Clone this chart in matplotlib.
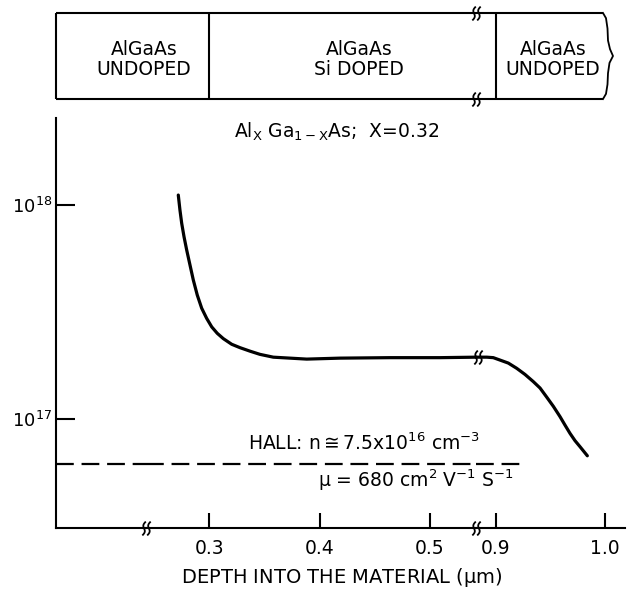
import numpy as np
import matplotlib
matplotlib.use("Agg")
import matplotlib.pyplot as plt
from matplotlib.path import Path
from matplotlib.ticker import FixedLocator, NullLocator, FixedFormatter

# ---------------- data ----------------
depth_near = [0.2719, 0.2734, 0.2750, 0.2771, 0.2795, 0.2825, 0.2855, 0.2891,
              0.2931, 0.2976, 0.3022, 0.3072, 0.3127, 0.3203, 0.3278, 0.3369,
              0.3459, 0.3580, 0.3731, 0.3883, 0.4184, 0.4638, 0.5091, 0.5417]
conc_near = [1.113e18, 9.48e17, 8.21e17, 7.11e17, 6.17e17, 5.25e17, 4.47e17, 3.80e17,
             3.30e17, 2.96e17, 2.70e17, 2.52e17, 2.38e17, 2.24e17, 2.16e17, 2.08e17,
             2.01e17, 1.95e17, 1.93e17, 1.91e17, 1.93e17, 1.94e17, 1.94e17, 1.95e17]
depth_far = [0.8817, 0.8915, 0.8975, 0.9037, 0.9113, 0.9190, 0.9266, 0.9342, 0.9404,
             0.9465, 0.9526, 0.9587, 0.9633, 0.9679, 0.9725, 0.9771, 0.9838]
conc_far = [1.95e17, 1.95e17, 1.94e17, 1.89e17, 1.83e17, 1.73e17, 1.62e17, 1.50e17, 1.40e17,
            1.27e17, 1.15e17, 1.03e17, 9.4e16, 8.6e16, 7.95e16, 7.45e16, 6.76e16]
hall_level = 6.2e16
hall_depth_end = 0.9275
x_ticks_near = [0.3, 0.4, 0.5]
x_labels_near = ["0.3", "0.4", "0.5"]
x_ticks_far = [0.9, 1.0]
x_labels_far = ["0.9", "1.0"]
y_ticks = [1e17, 1e18]
layer_bounds = [0.3, 0.9]
layer_end = 1.0
layer_names = [("AlGaAs", "UNDOPED"), ("AlGaAs", "Si DOPED"), ("AlGaAs", "UNDOPED")]

# ---------------- layout ----------------
W, H = 630, 589
plt.rcParams["font.family"] = ["DejaVu Sans"]
plt.rcParams["mathtext.fontset"] = "dejavusans"
plt.rcParams["mathtext.default"] = "regular"

fig = plt.figure(figsize=(W / 100, H / 100), dpi=100)


def fbox(x0, y0, x1, y1):
    return [x0 / W, 1 - y1 / H, (x1 - x0) / W, (y1 - y0) / H]


def fx(px):
    return px / W


def fy(py):
    return 1 - py / H


XL, XB1, XB2, XR = 56, 146, 476, 625
YT, YA = 118, 528
LW = 1.5
FS = 13.5

ax0 = fig.add_axes(fbox(XL, YT, XB1, YA))
ax0.set_yscale("log")
ax1 = fig.add_axes(fbox(XB1, YT, XB2, YA), sharey=ax0)
ax2 = fig.add_axes(fbox(XB2, YT, XR, YA), sharey=ax0)

ax0.set_xlim(0, 1)
ax1.set_xlim(0.24264, 0.54169)
ax2.set_xlim(0.88165, 1.01835)
ax0.set_ylim(10 ** 16.493, 10 ** 18.406)

for a in (ax0, ax1, ax2):
    a.set_facecolor("none")
    for s in ("top", "right", "left"):
        a.spines[s].set_visible(False)
    a.spines["bottom"].set_linewidth(LW)
ax0.spines["left"].set_visible(True)
ax0.spines["left"].set_linewidth(LW)

ax0.yaxis.set_major_locator(FixedLocator(y_ticks))
ax0.yaxis.set_minor_locator(NullLocator())
ax0.tick_params(axis="y", direction="in", length=14, width=LW, labelsize=13, pad=3)
ax0.tick_params(axis="x", bottom=False, labelbottom=False)
for a, tk, lb in ((ax1, x_ticks_near, x_labels_near), (ax2, x_ticks_far, x_labels_far)):
    a.tick_params(axis="y", which="both", left=False, labelleft=False)
    a.xaxis.set_major_locator(FixedLocator(tk))
    a.xaxis.set_major_formatter(FixedFormatter(lb))
    a.tick_params(axis="x", direction="in", length=11, width=LW, labelsize=FS, pad=8)

# curve
ax1.plot(depth_near, conc_near, color="black", lw=2.3, solid_capstyle="round", clip_on=False)
ax2.plot(depth_far, conc_far, color="black", lw=2.3, solid_capstyle="round", clip_on=False)

# Hall dashed line
dash = dict(color="black", lw=1.6, dashes=(8, 3.5))
ax0.axhline(hall_level, **dash)
ax1.axhline(hall_level, **dash)
ax2.plot([ax2.get_xlim()[0], hall_depth_end], [hall_level, hall_level], **dash)

# break symbols
t = np.linspace(-1, 1, 25)
verts, codes = [], []
for off in (-0.35, 0.35):
    xs = off + 0.25 * t - 0.22 * np.sin(np.pi * t)
    for i, (xx, yy) in enumerate(zip(xs, t)):
        verts.append((xx, yy))
        codes.append(Path.MOVETO if i == 0 else Path.LINETO)
brk = Path(verts, codes)
bkw = dict(marker=brk, ms=10, mfc="none", mec="black", mew=1.3, ls="none", clip_on=False, zorder=5)
ax1.plot([0], [0], transform=ax1.transAxes, **bkw)
ax2.plot([0], [0], transform=ax2.transAxes, **bkw)
ax2.plot([0.8835], [conc_far[0]], **bkw)

# ---------------- layer box ----------------
TB0, TB1 = 13, 99
tax0 = fig.add_axes(fbox(XL, TB0, XB1, TB1), sharex=ax0)
tax1 = fig.add_axes(fbox(XB1, TB0, XB2, TB1), sharex=ax1)
tax2 = fig.add_axes(fbox(XB2, TB0, XR, TB1), sharex=ax2)
for a in (tax0, tax1, tax2):
    a.axis("off")
    a.set_ylim(0, 1)
lk = dict(color="black", lw=LW, clip_on=False, solid_capstyle="butt")
for a in (tax0, tax1):
    x0, x1 = a.get_xlim()
    a.plot([x0, x1], [0, 0], **lk)
    a.plot([x0, x1], [1, 1], **lk)
tax0.plot([0, 0], [0, 1], **lk)
tax1.plot([layer_bounds[0]] * 2, [0, 1], **lk)
tx0 = tax2.get_xlim()[0]
tax2.plot([tx0, layer_end - 0.0018], [0, 0], **lk)
tax2.plot([tx0, layer_end - 0.0018], [1, 1], **lk)
tax2.plot([layer_bounds[1]] * 2, [0, 1], **lk)
# wavy cut edge on the right
px_off = np.array([-2, 1, 2.5, 3, 5, 8, 4.5, 3, 2.5, 1, -2])
yfr = np.array([1, 0.94, 0.82, 0.68, 0.58, 0.5, 0.42, 0.3, 0.17, 0.06, 0])
tax2.plot(layer_end + px_off / 1090.0, yfr, color="black", lw=1.3, clip_on=False)
tax2.plot([0, 0], [0, 1], transform=tax2.transAxes, **bkw)

label_cx = [144, 359, 553]
for cx, (l1, l2) in zip(label_cx, layer_names):
    fig.text(fx(cx), fy(55), l1, ha="center", va="baseline", fontsize=FS)
    fig.text(fx(cx), fy(75), l2, ha="center", va="baseline", fontsize=FS)

# ---------------- annotations ----------------
fig.text(fx(337), fy(138), r"Al$_X$ Ga$_{1-X}$As;  X=0.32", ha="center", va="baseline", fontsize=FS)
fig.text(fx(248), fy(450), r"HALL: n$\cong$7.5x10$^{16}$ cm$^{-3}$", ha="left", va="baseline", fontsize=FS)
fig.text(fx(318), fy(487), r"$\mu$ = 680 cm$^{2}$ V$^{-1}$ S$^{-1}$", ha="left", va="baseline", fontsize=FS)
fig.text(fx(342), fy(583), r"DEPTH INTO THE MATERIAL ($\mu$m)", ha="center", va="baseline", fontsize=14)

fig.savefig("out.png", dpi=100)
